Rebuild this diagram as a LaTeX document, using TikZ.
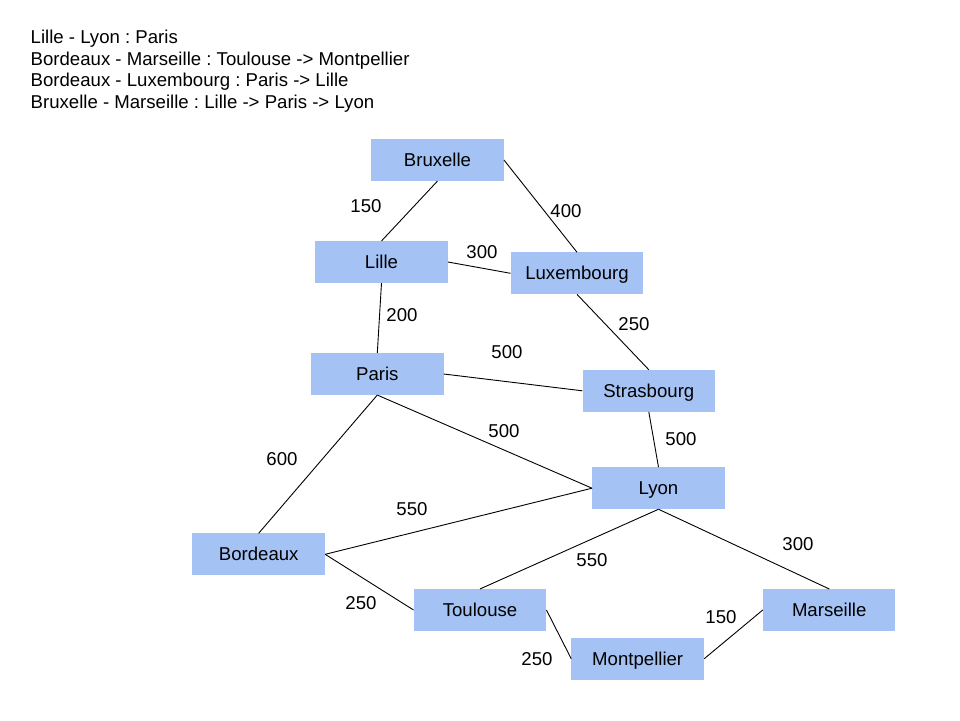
\documentclass[tikz,border=0pt]{standalone}
\usepackage{fontspec}
\setmainfont{Liberation Sans}
\frenchspacing
\definecolor{boxblue}{HTML}{A4C2F4}
\begin{document}
\begin{tikzpicture}[x=1pt,y=-1pt,
  city/.style={fill=boxblue,draw=none,minimum width=132.5pt,minimum height=41.7pt,inner sep=0pt,
    font=\fontsize{18.6}{21.7}\selectfont,text height=13.3pt,text depth=0pt},
  dist/.style={inner sep=0pt,font=\fontsize{18.6}{21.7}\selectfont,text height=13.3pt,text depth=0pt},
  info/.style={inner sep=0pt,anchor=base west,font=\fontsize{18.6}{21.7}\selectfont},
  road/.style={draw=black,line width=0.9pt}]
\useasboundingbox (0,0) rectangle (960,720);
\fill[white] (0,0) rectangle (960,720);
% info text
\node[info] (t1) at (30.5,43.3) {Lille - Lyon : Paris};
\node[info] (t2) at (30.5,65.0) {Bordeaux - Marseille : Toulouse -> Montpellier};
\node[info] (t3) at (30.5,86.7) {Bordeaux - Luxembourg : Paris -> Lille};
\node[info] (t4) at (30.5,108.3) {Bruxelle - Marseille : Lille -> Paris -> Lyon};
% cities
\node[city] (bru) at (437.5,160) {Bruxelle};
\node[city] (lil) at (381.5,262) {Lille};
\node[city] (lux) at (577,273.3) {Luxembourg};
\node[city] (par) at (377.3,374) {Paris};
\node[city] (str) at (648.8,390.8) {Strasbourg};
\node[city] (lyo) at (658.5,488.2) {Lyon};
\node[city] (bor) at (258.7,554.3) {Bordeaux};
\node[city] (tou) at (480,610) {Toulouse};
\node[city] (mar) at (829.2,610) {Marseille};
\node[city] (mon) at (637.7,658.8) {Montpellier};
% roads
\draw[road] (bru.south) -- (lil.north);
\draw[road] (bru.east) -- (lux.north);
\draw[road] (lil.east) -- (lux.west);
\draw[road] (lil.south) -- (par.north);
\draw[road] (lux.south) -- (str.north);
\draw[road] (par.east) -- (str.west);
\draw[road] (par.south) -- (lyo.west);
\draw[road] (par.south) -- (bor.north);
\draw[road] (str.south) -- (lyo.north);
\draw[road] (bor.east) -- (lyo.west);
\draw[road] (lyo.south) -- (tou.north);
\draw[road] (lyo.south) -- (mar.north);
\draw[road] (bor.east) -- (tou.west);
\draw[road] (tou.east) -- (mon.west);
\draw[road] (mon.east) -- (mar.west);
% distances
\node[dist] (d1) at (366,205.5) {150};
\node[dist] (d2) at (566,211) {400};
\node[dist] (d3) at (482,252) {300};
\node[dist] (d4) at (402,314.5) {200};
\node[dist] (d5) at (634,324) {250};
\node[dist] (d6) at (507,352) {500};
\node[dist] (d7) at (504,430.5) {500};
\node[dist] (d8) at (681,439) {500};
\node[dist] (d9) at (412,509) {550};
\node[dist] (d10) at (282,458.5) {600};
\node[dist] (d11) at (361,603) {250};
\node[dist] (d12) at (537,659) {250};
\node[dist] (d13) at (592,560) {550};
\node[dist] (d14) at (798,544) {300};
\node[dist] (d15) at (721,617) {150};
\end{tikzpicture}
\end{document}
